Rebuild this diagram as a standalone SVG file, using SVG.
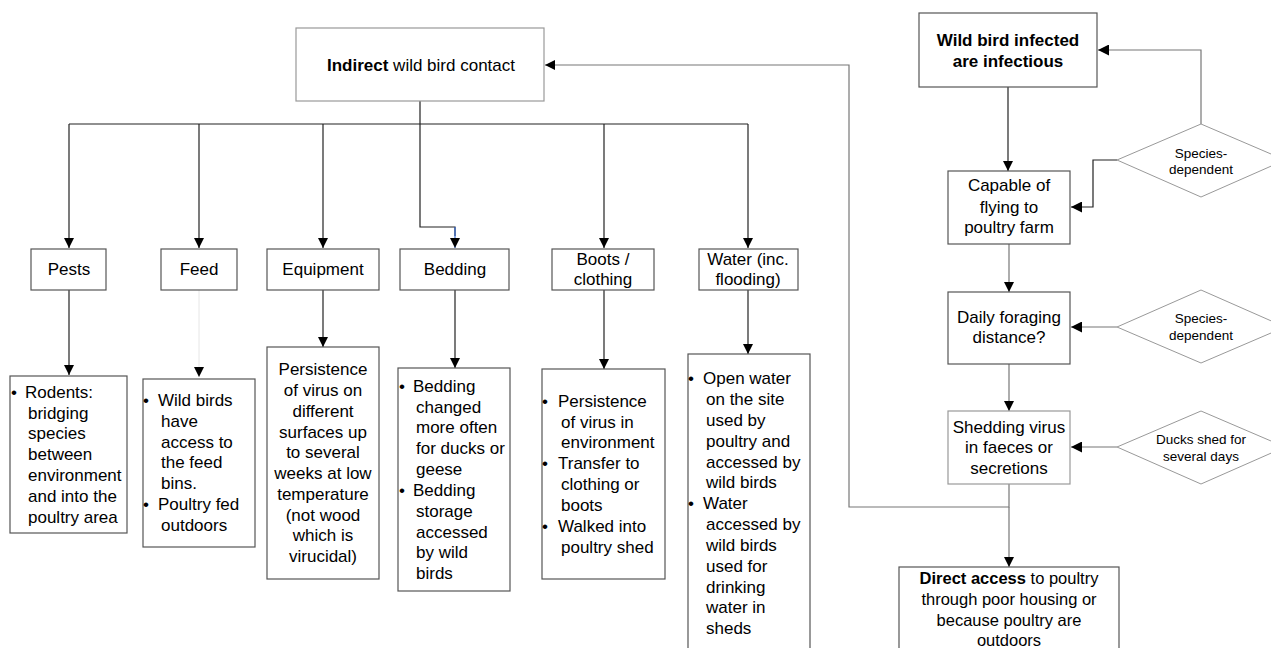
<svg xmlns="http://www.w3.org/2000/svg" width="1271" height="648" viewBox="0 0 1271 648">
<defs>
<marker id="ah" viewBox="0 0 10 10" refX="10" refY="5" markerWidth="10" markerHeight="10" markerUnits="userSpaceOnUse" orient="auto">
<path d="M0,0 L10,5 L0,10 z" fill="#000"/>
</marker>
<marker id="ahL" viewBox="0 0 10 10" refX="10" refY="5" markerWidth="11" markerHeight="11" markerUnits="userSpaceOnUse" orient="auto">
<path d="M0,0 L10,5 L0,10 z" fill="#000"/>
</marker>
</defs>
<style>
text{font-family:"Liberation Sans",Arial,sans-serif;fill:#000}
.t{font-size:17px}
.tc{font-size:17px;text-anchor:middle}
.d{font-size:13.5px;text-anchor:middle}
.box{fill:#fff;stroke:#555;stroke-width:1.2}
.lbox{fill:#fff;stroke:#999;stroke-width:1.2}
.dia{fill:#fff;stroke:#999;stroke-width:1}
.c{fill:none;stroke:#222;stroke-width:1.2}
.cg{fill:none;stroke:#777;stroke-width:1.2}
.b{font-weight:bold}
</style>
<rect width="1271" height="648" fill="#fff"/>

<g id="connectors">
<path class="c" d="M69,124 H748"/>
<path class="c" d="M69,124 V248" marker-end="url(#ah)"/>
<path class="c" d="M199,124 V248" marker-end="url(#ah)"/>
<path class="c" d="M323,124 V248" marker-end="url(#ah)"/>
<path class="c" d="M420,101 V227 H455 V236"/>
<path fill="none" stroke="#3a6fd8" stroke-width="1.2" d="M455,227 V248" marker-end="url(#ah)"/>
<path class="c" d="M604,124 V248" marker-end="url(#ah)"/>
<path class="c" d="M748,124 V248" marker-end="url(#ah)"/>
<path class="c" d="M69,290 V375" marker-end="url(#ah)"/>
<path fill="none" stroke="#e6e6e6" stroke-width="1" d="M199,290 V377" marker-end="url(#ah)"/>
<path class="c" d="M323,290 V347" marker-end="url(#ah)"/>
<path class="c" d="M455,290 V368" marker-end="url(#ah)"/>
<path class="c" d="M604,290 V369" marker-end="url(#ah)"/>
<path class="c" d="M748,290 V354" marker-end="url(#ah)"/>
<path class="cg" d="M1009,484 V507 H849 V65 H545" marker-end="url(#ah)"/>
<path class="cg" d="M1009,507 V567" marker-end="url(#ah)"/>
<path class="c" d="M1008,87 V171" marker-end="url(#ah)"/>
<path class="cg" d="M1009,244 V292" marker-end="url(#ah)"/>
<path class="cg" d="M1009,364 V411" marker-end="url(#ah)"/>
<path class="cg" d="M1201,124 V50 H1098" marker-end="url(#ahL)"/>
<path class="c" d="M1117,160 H1093 V207 H1071" marker-end="url(#ahL)"/>
<path class="cg" d="M1117,327 H1071" marker-end="url(#ahL)"/>
<path class="cg" d="M1117,447 H1071" marker-end="url(#ahL)"/>
</g>

<g id="indirect">
<rect class="lbox" x="296" y="28" width="248" height="73"/>
<text x="421" y="71" style="font-size:17px;text-anchor:middle"><tspan class="b">Indirect</tspan> wild bird contact</text>
</g>

<g id="pests">
<rect class="box" x="31" y="249" width="75" height="41"/>
<text class="tc" x="69" y="275">Pests</text>
</g>
<g id="feed">
<rect class="box" x="161" y="249" width="76" height="41"/>
<text class="tc" x="199" y="275">Feed</text>
</g>
<g id="equipment">
<rect class="box" x="267" y="249" width="112" height="41"/>
<text class="tc" x="323" y="275">Equipment</text>
</g>
<g id="bedding">
<rect class="box" x="400" y="249" width="109" height="41"/>
<text class="tc" x="455" y="275">Bedding</text>
</g>
<g id="boots">
<rect class="box" x="552" y="249" width="102" height="41"/>
<text class="tc" x="603" y="265">Boots /</text>
<text class="tc" x="603" y="285">clothing</text>
</g>
<g id="water">
<rect class="box" x="699" y="249" width="99" height="41"/>
<text class="tc" x="748" y="265">Water (inc.</text>
<text class="tc" x="748" y="285">flooding)</text>
</g>

<g id="rodents">
<rect class="box" x="10" y="376" width="117" height="157"/>
<text class="t" x="11" y="398">•</text>
<text class="t"><tspan x="25" y="398">Rodents:</tspan><tspan x="28" y="419">bridging</tspan><tspan x="28" y="439">species</tspan><tspan x="28" y="460">between</tspan><tspan x="28" y="481">environment</tspan><tspan x="28" y="502">and into the</tspan><tspan x="28" y="523">poultry area</tspan></text>
</g>

<g id="feed-detail">
<rect class="box" x="143" y="379" width="112" height="168"/>
<text class="t" x="143" y="406">•</text>
<text class="t" x="143" y="510">•</text>
<text class="t"><tspan x="158" y="406">Wild birds</tspan><tspan x="161" y="427">have</tspan><tspan x="161" y="448">access to</tspan><tspan x="161" y="468">the feed</tspan><tspan x="161" y="489">bins.</tspan><tspan x="158" y="510">Poultry fed</tspan><tspan x="161" y="531">outdoors</tspan></text>
</g>

<g id="equipment-detail">
<rect class="box" x="267" y="347" width="112" height="232"/>
<text class="tc"><tspan x="323" y="375">Persistence</tspan><tspan x="323" y="396">of virus on</tspan><tspan x="323" y="417">different</tspan><tspan x="323" y="438">surfaces up</tspan><tspan x="323" y="458">to several</tspan><tspan x="323" y="479">weeks at low</tspan><tspan x="323" y="500">temperature</tspan><tspan x="323" y="521">(not wood</tspan><tspan x="323" y="541">which is</tspan><tspan x="323" y="562">virucidal)</tspan></text>
</g>

<g id="bedding-detail">
<rect class="box" x="398" y="368" width="112" height="223"/>
<text class="t" x="399" y="392">•</text>
<text class="t" x="399" y="496">•</text>
<text class="t"><tspan x="413" y="392">Bedding</tspan><tspan x="416" y="413">changed</tspan><tspan x="416" y="433">more often</tspan><tspan x="416" y="454">for ducks or</tspan><tspan x="416" y="475">geese</tspan><tspan x="413" y="496">Bedding</tspan><tspan x="416" y="517">storage</tspan><tspan x="416" y="538">accessed</tspan><tspan x="416" y="558">by wild</tspan><tspan x="416" y="579">birds</tspan></text>
</g>

<g id="boots-detail">
<rect class="box" x="542" y="369" width="123" height="210"/>
<text class="t" x="542" y="407">•</text>
<text class="t" x="542" y="469">•</text>
<text class="t" x="542" y="532">•</text>
<text class="t"><tspan x="558" y="407">Persistence</tspan><tspan x="561" y="428">of virus in</tspan><tspan x="561" y="448">environment</tspan><tspan x="558" y="469">Transfer to</tspan><tspan x="561" y="490">clothing or</tspan><tspan x="561" y="511">boots</tspan><tspan x="558" y="532">Walked into</tspan><tspan x="561" y="553">poultry shed</tspan></text>
</g>

<g id="water-detail">
<rect class="box" x="688" y="354" width="122" height="300"/>
<text class="t" x="688" y="384">•</text>
<text class="t" x="688" y="509">•</text>
<text class="t"><tspan x="703" y="384">Open water</tspan><tspan x="706" y="405">on the site</tspan><tspan x="706" y="426">used by</tspan><tspan x="706" y="447">poultry and</tspan><tspan x="706" y="468">accessed by</tspan><tspan x="706" y="488">wild birds</tspan><tspan x="703" y="509">Water</tspan><tspan x="706" y="530">accessed by</tspan><tspan x="706" y="551">wild birds</tspan><tspan x="706" y="572">used for</tspan><tspan x="706" y="593">drinking</tspan><tspan x="706" y="613">water in</tspan><tspan x="706" y="634">sheds</tspan></text>
</g>

<g id="wild-bird">
<rect class="box" x="919" y="13" width="178" height="74"/>
<text class="tc b" x="1008" y="46">Wild bird infected</text>
<text class="tc b" x="1008" y="67">are infectious</text>
</g>

<g id="capable">
<rect class="box" x="948" y="171" width="122" height="73"/>
<text class="tc"><tspan x="1009" y="191">Capable of</tspan><tspan x="1009" y="213">flying to</tspan><tspan x="1009" y="233">poultry farm</tspan></text>
</g>

<g id="daily">
<rect class="box" x="948" y="292" width="122" height="72"/>
<text class="tc"><tspan x="1009" y="323">Daily foraging</tspan><tspan x="1009" y="343">distance?</tspan></text>
</g>

<g id="shedding">
<rect class="lbox" x="948" y="411" width="122" height="73"/>
<text class="tc"><tspan x="1009" y="433">Shedding virus</tspan><tspan x="1009" y="453">in faeces or</tspan><tspan x="1009" y="474">secretions</tspan></text>
</g>

<g id="direct">
<rect class="box" x="899" y="567" width="220" height="90"/>
<text style="font-size:16.5px;text-anchor:middle" x="1009" y="584"><tspan class="b">Direct access</tspan> to poultry</text>
<text style="font-size:16.5px;text-anchor:middle" x="1009" y="605">through poor housing or</text>
<text style="font-size:16.5px;text-anchor:middle" x="1009" y="626">because poultry are</text>
<text style="font-size:16.5px;text-anchor:middle" x="1009" y="646">outdoors</text>
</g>

<g id="species-1">
<path class="dia" d="M1117,160 L1201,124 L1285,160 L1201,197 Z"/>
<text class="d" x="1201" y="158">Species-</text>
<text class="d" x="1201" y="174">dependent</text>
</g>

<g id="species-2">
<path class="dia" d="M1117,327 L1201,290 L1285,327 L1201,363 Z"/>
<text class="d" x="1201" y="323">Species-</text>
<text class="d" x="1201" y="340">dependent</text>
</g>

<g id="ducks">
<path class="dia" d="M1117,447 L1201,411 L1285,447 L1201,484 Z"/>
<text class="d" x="1201" y="444">Ducks shed for</text>
<text class="d" x="1201" y="461">several days</text>
</g>
</svg>
